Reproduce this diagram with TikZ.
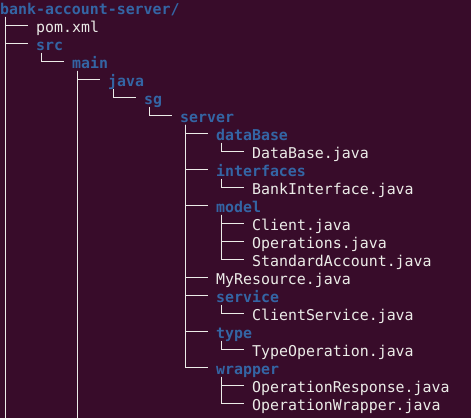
\documentclass[tikz,border=0pt]{standalone}
\usepackage{fontspec}
\setmonofont{DejaVu Sans Mono}
\usepackage{xcolor}
\usetikzlibrary{positioning}
\definecolor{termbg}{RGB}{56,12,42}
\definecolor{termdir}{RGB}{52,101,164}
\definecolor{termtext}{RGB}{236,236,232}

\begin{document}
\begin{tikzpicture}[x=1pt,y=-1pt,
    entry/.style={anchor=west,inner sep=0pt,text height=14pt,text depth=0.6pt,
      font=\ttfamily\fontsize{14.9}{18}\selectfont},
    dirname/.style={entry,text=termdir,font=\ttfamily\bfseries\fontsize{14.9}{18}\selectfont},
    filename/.style={entry,text=termtext},
    branch/.style={draw=termtext,line width=1.2pt,shorten >=8pt},
    trunk/.style={draw=termtext,line width=1.2pt}]
        % Terminal background
        \fill[termbg] (0,0) rectangle (471,418);
        \useasboundingbox (0,0) rectangle (471,418);
        \coordinate (bottom) at (0,418);

        % Project root
        \node[dirname] (root) at (0,7.7) {bank-account-server/};
        \node[filename] (pom) at (36,25.7) {pom.xml};
        \node[dirname] (src) at (36,43.7) {src};
        \node[dirname] (main) at (72,61.7) {main};
        \node[dirname] (java) at (108,79.7) {java};
        \node[dirname] (sg) at (144,97.7) {sg};
        \node[dirname] (server) at (180,115.7) {server};

        % Packages of server
        \node[dirname] (dataBase) at (216,133.7) {dataBase};
        \node[filename] (DataBase) at (252,151.7) {DataBase.java};
        \node[dirname] (interfaces) at (216,169.7) {interfaces};
        \node[filename] (BankInterface) at (252,187.7) {BankInterface.java};
        \node[dirname] (model) at (216,205.7) {model};
        \node[filename] (Client) at (252,223.7) {Client.java};
        \node[filename] (Operations) at (252,241.7) {Operations.java};
        \node[filename] (StandardAccount) at (252,259.7) {StandardAccount.java};
        \node[filename] (MyResource) at (216,277.7) {MyResource.java};
        \node[dirname] (service) at (216,295.7) {service};
        \node[filename] (ClientService) at (252,313.7) {ClientService.java};
        \node[dirname] (type) at (216,331.7) {type};
        \node[filename] (TypeOperation) at (252,349.7) {TypeOperation.java};
        \node[dirname] (wrapper) at (216,367.7) {wrapper};
        \node[filename] (OperationResponse) at (252,385.7) {OperationResponse.java};
        \node[filename] (OperationWrapper) at (252,403.7) {OperationWrapper.java};

        % Tree branches
        \foreach \parent/\children in {root/{pom,src}, src/{main}, main/{java},
            java/{sg}, sg/{server},
            server/{dataBase,interfaces,model,MyResource,service,type,wrapper},
            dataBase/{DataBase}, interfaces/{BankInterface},
            model/{Client,Operations,StandardAccount}, service/{ClientService},
            type/{TypeOperation}, wrapper/{OperationResponse,OperationWrapper}} {
            \coordinate (\parent-bar) at ([xshift=5.5pt,yshift=-9pt]\parent.west);
            \foreach \child in \children
                \draw[branch] (\parent-bar) |- (\child.west);
        }

        % Branches running on past the bottom
        \draw[trunk] (root-bar) -- (root-bar |- bottom);
        \draw[trunk] (main-bar) -- (main-bar |- bottom);
    \end{tikzpicture}
\end{document}
